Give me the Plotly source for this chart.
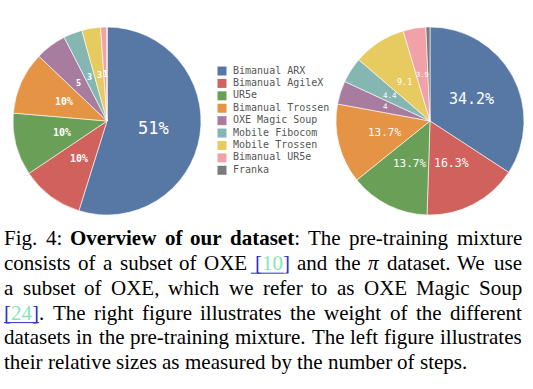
import math
import plotly.graph_objects as go

# ---------------- data ----------------
categories = ["Bimanual ARX", "Bimanual AgileX", "UR5e", "Bimanual Trossen",
              "OXE Magic Soup", "Mobile Fibocom", "Mobile Trossen",
              "Bimanual UR5e", "Franka"]
steps_share = [51, 10, 10, 10, 5, 3, 3, 1, 0]                         # left pie
mixture_weight = [34.2, 16.3, 13.7, 13.7, 4, 4.4, 9.1, 3.9, 0.7]       # right pie

# ---------------- styles ----------------
colors = ["#5778a4", "#d1615d", "#6a9f58", "#e49444", "#a87c9f",
          "#85b6b2", "#e7ca60", "#f1a2a9", "#7b7b7b"]
left_label_sizes = [17, 10, 10, 10, 8.5, 8.5, 8.5, 8, 8]
left_label_bold = [False, True, True, True, True, True, True, True, True]
right_label_sizes = [15, 11.5, 11, 11, 7.5, 7.5, 8.5, 7, 7]
right_label_bold = [False] * 9

W, H = 533, 389
LEFT_PIE = (13, 201, 27, 215)    # px box: x0, x1, y0, y1
RIGHT_PIE = (336, 524, 27, 215)
LABEL_RADIUS = 0.5


def px(x):
    return x / W


def py(y):
    return 1 - y / H


def slice_label(v):
    if v >= 10:
        return f"{v:g}%"
    if v >= 1:
        return f"{v:g}"
    return ""


fig = go.Figure()
annotations = []


def add_pie(values, box, sizes, bold):
    x0, x1, y0, y1 = box
    fig.add_trace(go.Pie(
        labels=categories, values=values, sort=False, direction="clockwise",
        rotation=0, textinfo="none",
        marker=dict(colors=colors, line=dict(color="white", width=0.6)),
        domain=dict(x=[px(x0), px(x1)], y=[py(y1), py(y0)]),
        showlegend=False, hoverinfo="label+value"))
    cx, cy, r = (x0 + x1) / 2, (y0 + y1) / 2, (x1 - x0) / 2
    total = float(sum(values))
    cum = 0.0
    for v, s, b in zip(values, sizes, bold):
        mid = (cum + v / 2) / total
        cum += v
        t = slice_label(v)
        if not t:
            continue
        th = 2 * math.pi * mid
        lx = cx + LABEL_RADIUS * r * math.sin(th)
        ly = cy - LABEL_RADIUS * r * math.cos(th)
        annotations.append(dict(
            x=px(lx), y=py(ly), xref="paper", yref="paper", xanchor="center",
            yanchor="middle", showarrow=False, text=f"<b>{t}</b>" if b else t,
            borderpad=0, borderwidth=0,
            font=dict(family="DejaVu Sans Mono", size=s, color="white")))


add_pie(steps_share, LEFT_PIE, left_label_sizes, left_label_bold)
add_pie(mixture_weight, RIGHT_PIE, right_label_sizes, right_label_bold)

# legend drawn as a categorical scatter (swatches + labels)
legend_text_offset = 0.102
fig.add_trace(go.Scatter(
    x=[0] * len(categories), y=categories, mode="markers",
    marker=dict(symbol="square", size=9, color=colors, line=dict(width=0)),
    hoverinfo="skip", showlegend=False, cliponaxis=False))
fig.add_trace(go.Scatter(
    x=[legend_text_offset] * len(categories), y=categories, mode="text",
    text=categories, textposition="middle right",
    textfont=dict(family="DejaVu Sans Mono", size=10, color="#555555"),
    hoverinfo="skip", showlegend=False, cliponaxis=False))

# ---------------- caption (justified like the paper) ----------------
ROMAN = {' ': 250, 'a': 444, 'b': 500, 'c': 444, 'd': 500, 'e': 444, 'f': 333, 'g': 500,
         'h': 500, 'i': 278, 'j': 278, 'k': 500, 'l': 278, 'm': 778, 'n': 500, 'o': 500,
         'p': 500, 'q': 500, 'r': 333, 's': 389, 't': 278, 'u': 500, 'v': 500, 'w': 722,
         'x': 500, 'y': 500, 'z': 444, 'E': 611, 'F': 556, 'M': 889, 'O': 722, 'S': 556,
         'T': 611, 'W': 944, 'X': 722, '.': 250, ',': 250, ':': 278, '-': 333, '[': 333,
         ']': 333, 'π': 530}
for d in "0123456789":
    ROMAN[d] = 500
BOLD = dict(ROMAN)
BOLD.update({'a': 500, 'd': 556, 'r': 444, 't': 333, 'u': 556, 'O': 778})

R, B, I, LNK, CIT = "r", "b", "i", "link", "cite"
caption_lines = [
    [[("Fig.", R)], [("4:", R)], [("Overview", B)], [("of", B)], [("our", B)],
     [("dataset", B), (":", R)], [("The", R)], [("pre-training", R)], [("mixture", R)]],
    [[("consists", R)], [("of", R)], [("a", R)], [("subset", R)], [("of", R)], [("OXE", R)],
     [("[", LNK), ("10", CIT), ("]", LNK)], [("and", R)], [("the", R)], [("π", I)],
     [("dataset.", R)], [("We", R)], [("use", R)]],
    [[("a", R)], [("subset", R)], [("of", R)], [("OXE,", R)], [("which", R)], [("we", R)],
     [("refer", R)], [("to", R)], [("as", R)], [("OXE", R)], [("Magic", R)], [("Soup", R)]],
    [[("[", LNK), ("24", CIT), ("]", LNK), (".", R)], [("The", R)], [("right", R)],
     [("figure", R)], [("illustrates", R)], [("the", R)], [("weight", R)], [("of", R)],
     [("the", R)], [("different", R)]],
    [[("datasets", R)], [("in", R)], [("the", R)], [("pre-training", R)], [("mixture.", R)],
     [("The", R)], [("left", R)], [("figure", R)], [("illustrates", R)]],
    [[("their", R)], [("relative", R)], [("sizes", R)], [("as", R)], [("measured", R)],
     [("by", R)], [("the", R)], [("number", R)], [("of", R)], [("steps.", R)]],
]
FS = 21
LEFT, RIGHT = 4, 522
BASE0, LEAD = 245.5, 24.7
LINK_COLOR, CITE_COLOR = "#2f2fc8", "#86e6b8"


def seg_width(text, style):
    table = BOLD if style == B else ROMAN
    return sum(table.get(ch, 500) for ch in text) * FS / 1000.0


def seg_html(text, style):
    if style == B:
        return f"<b>{text}</b>"
    if style == I:
        return f"<i>{text}</i>"
    if style == LNK:
        return f"<span style='color:{LINK_COLOR}'>{text}</span>"
    if style == CIT:
        return f"<span style='color:{CITE_COLOR}'>{text}</span>"
    return text


shapes = []
for li, words in enumerate(caption_lines):
    widths = [sum(seg_width(t, s) for t, s in w) for w in words]
    if li < len(caption_lines) - 1:
        gap = (RIGHT - LEFT - sum(widths)) / (len(words) - 1)
    else:
        gap = 0.25 * FS
    base = BASE0 + li * LEAD
    x = LEFT
    for w, wd in zip(words, widths):
        html = "".join(seg_html(t, s) for t, s in w)
        annotations.append(dict(
            x=px(x), y=py(base - 7.1), xref="paper", yref="paper", xanchor="left",
            yanchor="middle", showarrow=False, text=html, borderpad=0, borderwidth=0,
            font=dict(family="Liberation Serif", size=FS, color="#000000")))
        if w[0][1] == LNK:
            link_w = sum(seg_width(t, s) for t, s in w if s in (LNK, CIT))
            x0 = x - (4 if li == 1 else 0)
            shapes.append(dict(type="line", xref="paper", yref="paper",
                               x0=px(x0), x1=px(x + link_w - (6 if li == 1 else 0)),
                               y0=py(base + 3), y1=py(base + 3),
                               line=dict(color=LINK_COLOR, width=1)))
        x += wd + gap

fig.update_layout(
    width=W, height=H, margin=dict(l=0, r=0, t=0, b=0),
    paper_bgcolor="white", plot_bgcolor="rgba(0,0,0,0)",
    showlegend=False,
    xaxis=dict(domain=[px(222), px(330)], range=[0, 1], visible=False, fixedrange=True),
    yaxis=dict(domain=[py(176.5), py(64.8)], type="category",
               categoryorder="array", categoryarray=categories,
               range=[len(categories) - 0.5, -0.5], visible=False, fixedrange=True),
    annotations=annotations, shapes=shapes,
)

fig.write_html("out.html", config={"displayModeBar": False},
               post_script="document.body.style.margin='0px';")
